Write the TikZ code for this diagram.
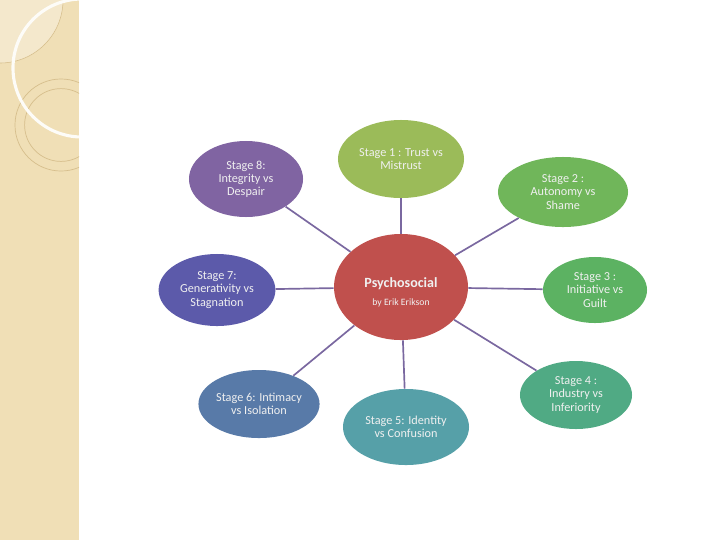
\documentclass[tikz,border=0pt]{standalone}
\usepackage{fontspec}
\setmainfont{Carlito}
\usetikzlibrary{shapes.geometric}
\definecolor{stripBg}{RGB}{240,223,182}
\definecolor{stripLn}{RGB}{214,190,140}
\definecolor{lnPurple}{RGB}{122,104,160}
\definecolor{cCenter}{RGB}{192,80,77}
\definecolor{cOne}{RGB}{155,187,89}
\definecolor{cTwo}{RGB}{112,182,90}
\definecolor{cThree}{RGB}{92,178,98}
\definecolor{cFour}{RGB}{80,170,132}
\definecolor{cFive}{RGB}{86,160,168}
\definecolor{cSix}{RGB}{88,122,168}
\definecolor{cSeven}{RGB}{92,90,170}
\definecolor{cEight}{RGB}{128,100,162}
\begin{document}
\begin{tikzpicture}[x=0.025cm,y=-0.025cm,
    stgBk/.style={ellipse,inner sep=0pt,text=white!94!black,align=center,font=\fontsize{8.7}{9.3}\selectfont},
    stgLn/.style={draw=lnPurple,line width=1.2pt},
]
\useasboundingbox (0,0) rectangle (720,540);
% side strip
\fill[stripBg] (0,0) rectangle (79,540);
\begin{scope}
\clip (0,0) rectangle (79,540);
\fill[white,opacity=0.3] (0,0) circle (1.575cm);
\draw[stripLn,line width=0.4pt] (0,0) circle (1.575cm);
\draw[stripLn,line width=0.5pt] (61,125) circle (1.15cm);
\draw[stripLn,line width=0.5pt] (61,125) circle (0.91cm);
\draw[white!90!stripBg,line width=2.2pt] (82,68) circle (1.725cm);
\end{scope}
% stages
\node[stgBk,fill=cCenter,minimum width=3.35cm,minimum height=2.65cm] (C) at (401,287) {};
\node[text=white!94!black,font=\fontsize{10}{12}\selectfont\bfseries] (Ct) at (401,284) {Psychosocial};
\node[text=white!94!black,font=\fontsize{6.9}{8}\selectfont] (Cs) at (401,303) {by Erik Erikson};
\node[stgBk,fill=cOne,minimum width=3.15cm,minimum height=1.95cm] (S1) at (401,159) {Stage 1 : Trust vs\\Mistrust};
\node[stgBk,fill=cTwo,minimum width=3.25cm,minimum height=1.75cm] (S2) at (563,192) {Stage 2 :\\Autonomy vs\\Shame};
\node[stgBk,fill=cThree,minimum width=2.6cm,minimum height=1.65cm] (S3) at (595,290) {Stage 3 :\\Initiative vs\\Guilt};
\node[stgBk,fill=cFour,minimum width=2.8cm,minimum height=1.7cm] (S4) at (576,395) {Stage 4 :\\Industry vs\\Inferiority};
\node[stgBk,fill=cFive,minimum width=3.15cm,minimum height=1.9cm] (S5) at (406,427) {Stage 5: Identity\\vs Confusion};
\node[stgBk,fill=cSix,minimum width=2.95cm,minimum height=1.7cm] (S6) at (259,404) {Stage 6: Intimacy\\vs Isolation};
\node[stgBk,fill=cSeven,minimum width=2.92cm,minimum height=1.8cm] (S7) at (217,290) {Stage 7:\\Generativity vs\\Stagnation};
\node[stgBk,fill=cEight,minimum width=2.85cm,minimum height=1.9cm] (S8) at (246,179) {Stage 8:\\Integrity vs\\Despair};
% spokes
\draw[stgLn] (C) -- (S1);
\draw[stgLn] (C) -- (S2);
\draw[stgLn] (C) -- (S3);
\draw[stgLn] (C) -- (S4);
\draw[stgLn] (C) -- (S5);
\draw[stgLn] (C) -- (S6);
\draw[stgLn] (C) -- (S7);
\draw[stgLn] (C) -- (S8);
\end{tikzpicture}
\end{document}
